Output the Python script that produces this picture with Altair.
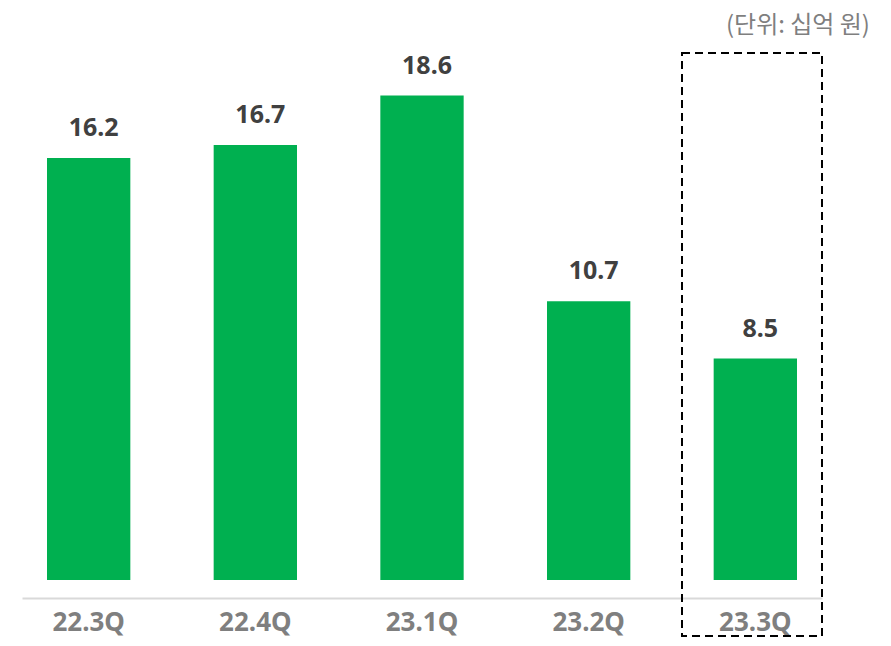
import altair as alt
import pandas as pd

quarters = ["22.3Q", "22.4Q", "23.1Q", "23.2Q", "23.3Q"]
values = [16.2, 16.7, 18.6, 10.7, 8.5]
unit_label = "(단위: 십억 원)"

df = pd.DataFrame({"q": quarters, "v": values})

xs = alt.Scale(domain=quarters, paddingInner=0.5, paddingOuter=0.15, range=[0, 800])
ys = alt.Scale(domain=[0, 21.96], nice=False, zero=True)

base = alt.Chart(df)

bars = base.mark_bar(color="#00B050").encode(
    x=alt.X("q:N", sort=quarters, scale=xs, title=None,
            axis=alt.Axis(offset=18, domainColor="#d9d9d9", domainWidth=2,
                          ticks=False, labelAngle=0, labelFont="Noto Sans",
                          labelFontSize=26, labelFontWeight="bold",
                          labelColor="#7f7f7f", labelPadding=11, grid=False)),
    y=alt.Y("v:Q", scale=ys, axis=None),
)

labels = base.mark_text(font="Noto Sans", fontSize=25, fontWeight="bold",
                        color="#404040", baseline="alphabetic", dy=-22, dx=5).encode(
    x=alt.X("q:N", sort=quarters, scale=xs),
    y=alt.Y("v:Q", scale=ys),
    text=alt.Text("v:Q", format=".1f"),
)

unit = alt.Chart(pd.DataFrame({"t": [unit_label]})).mark_text(
    font="Noto Sans CJK KR", fontSize=24, color="#7f7f7f", align="right",
    baseline="middle").encode(
    x=alt.value(848), y=alt.value(18), text="t:N")

box = alt.Chart(pd.DataFrame({"q": ["23.3Q"]})).mark_rect(
    fill=None, stroke="black", strokeWidth=2, strokeDash=[8, 5]).encode(
    x=alt.value(660), x2=alt.value(800), y=alt.value(45), y2=alt.value(628))

chart = alt.layer(bars, labels, box, unit).properties(
    width=861, height=572,
    autosize=alt.AutoSizeParams(type="none"),
    padding={"left": 14, "top": 0, "right": 0, "bottom": 58},
).configure_view(stroke=None)

chart.save("out.html", embed_options={"renderer": "svg", "actions": False})
